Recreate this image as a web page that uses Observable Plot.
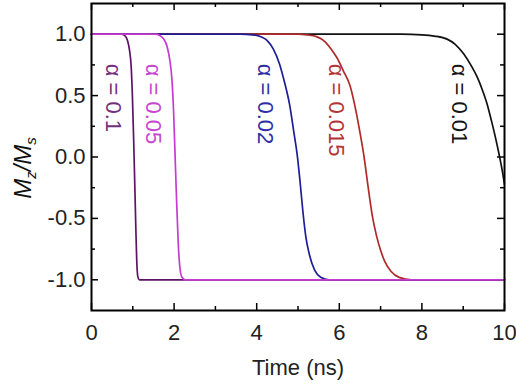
<!DOCTYPE html>
<html>
<head>
<meta charset="utf-8">
<script src="https://cdn.jsdelivr.net/npm/d3@7"></script>
<script src="https://cdn.jsdelivr.net/npm/@observablehq/plot@0.6"></script>
<style>
  html, body { margin: 0; padding: 0; background: #fff; }
  #chart { width: 516px; height: 385px; }
  svg { font-family: "Liberation Sans", Arial, sans-serif; }
</style>
</head>
<body>
<div id="chart"></div>
<script>
// ---- data ----
const seriesNames = ["α = 0.01", "α = 0.015", "α = 0.02", "α = 0.1", "α = 0.05"];
const seriesColors = ["#111111", "#b02a2a", "#1e1e96", "#5e1466", "#c53ccf"];
const labelColors = ["#151515", "#b33434", "#2e2ea6", "#74307e", "#c646d2"];

const t_a001  = [0, 7.5, 8.0, 8.3, 8.61, 8.8, 9.01, 9.2, 9.34, 9.46, 9.58, 9.68, 9.78, 9.87, 9.94, 10];
const mz_a001 = [1, 1, 0.995, 0.985, 0.96, 0.92, 0.84, 0.74, 0.65, 0.55, 0.43, 0.30, 0.16, 0.02, -0.10, -0.22];

const t_a0015  = [0, 5.0, 5.21, 5.45, 5.65, 5.80, 5.94, 6.10, 6.26, 6.40, 6.50, 6.60, 6.70, 6.80, 6.90, 7.00, 7.10, 7.25, 7.45, 7.75, 10];
const mz_a0015 = [1, 1, 0.995, 0.98, 0.94, 0.88, 0.81, 0.70, 0.58, 0.38, 0.20, 0.0, -0.25, -0.48, -0.64, -0.76, -0.85, -0.93, -0.98, -1.0, -1.0];

const t_a002  = [0, 3.6, 3.9, 4.1, 4.25, 4.40, 4.55, 4.68, 4.80, 4.90, 4.98, 5.05, 5.12, 5.19, 5.28, 5.40, 5.55, 5.75, 10];
const mz_a002 = [1, 1, 0.995, 0.98, 0.95, 0.88, 0.76, 0.60, 0.42, 0.20, 0.02, -0.20, -0.45, -0.65, -0.80, -0.92, -0.98, -1.0, -1.0];

const t_a01  = [0, 0.72, 0.80, 0.87, 0.92, 0.96, 0.99, 1.02, 1.05, 1.075, 1.10, 1.12, 1.16, 10];
const mz_a01 = [1, 1, 0.99, 0.95, 0.87, 0.74, 0.50, 0.15, -0.25, -0.60, -0.88, -0.97, -1.0, -1.0];

const t_a005  = [0, 1.55, 1.65, 1.75, 1.83, 1.90, 1.95, 1.99, 2.02, 2.06, 2.10, 2.14, 2.19, 2.27, 10];
const mz_a005 = [1, 1, 0.99, 0.96, 0.90, 0.78, 0.62, 0.35, 0.05, -0.35, -0.70, -0.90, -0.98, -1.0, -1.0];

const seriesT  = [t_a001, t_a0015, t_a002, t_a01, t_a005];
const seriesMz = [mz_a001, mz_a0015, mz_a002, mz_a01, mz_a005];

// label anchors (data units) where each rotated label starts
const labelT  = [8.89, 5.91, 4.21, 0.53, 1.50];
const labelMz = [0.76, 0.76, 0.76, 0.76, 0.76];

const xTickLabels = [0, 2, 4, 6, 8, 10];
const xMinorTicks = [1, 3, 5, 7, 9];
const yTickLabels = [-1.0, -0.5, 0.0, 0.5, 1.0];
const yMinorTicks = [-0.75, -0.25, 0.25, 0.75];

// ---- build tables ----
const rows = [];
seriesT.forEach((ts, i) => ts.forEach((t, j) => rows.push({series: seriesNames[i], t, mz: seriesMz[i][j]})));
const labels = seriesNames.map((name, i) => ({name, t: labelT[i], mz: labelMz[i], color: labelColors[i]}));

const W = 516, H = 385;
const mL = 91, mR = 12, mT = 3, mB = 75;
const fh = H - mT - mB, fw = W - mL - mR;
const major = 7, minor = 4;

const chart = Plot.plot({
  width: W,
  height: H,
  marginLeft: mL,
  marginRight: mR,
  marginTop: mT,
  marginBottom: mB,
  style: {fontFamily: "Liberation Sans, Arial, sans-serif", fontSize: "22px", color: "#222"},
  x: {domain: [0, 10]},
  y: {domain: [-1.25, 1.25]},
  color: {domain: seriesNames, range: seriesColors},
  marks: [
    // inward tick marks on all four sides
    Plot.ruleX(xTickLabels, {x: d => d, insetTop: fh - major, stroke: "#000", strokeWidth: 1.5}),
    Plot.ruleX(xMinorTicks, {x: d => d, insetTop: fh - minor, stroke: "#000", strokeWidth: 1.5}),
    Plot.ruleX(xTickLabels, {x: d => d, insetBottom: fh - major, stroke: "#000", strokeWidth: 1.5}),
    Plot.ruleX(xMinorTicks, {x: d => d, insetBottom: fh - minor, stroke: "#000", strokeWidth: 1.5}),
    Plot.ruleY(yTickLabels, {y: d => d, insetRight: fw - major, stroke: "#000", strokeWidth: 1.5}),
    Plot.ruleY(yMinorTicks, {y: d => d, insetRight: fw - minor, stroke: "#000", strokeWidth: 1.5}),
    Plot.ruleY(yTickLabels, {y: d => d, insetLeft: fw - major, stroke: "#000", strokeWidth: 1.5}),
    Plot.ruleY(yMinorTicks, {y: d => d, insetLeft: fw - minor, stroke: "#000", strokeWidth: 1.5}),
    Plot.line(rows, {x: "t", y: "mz", z: "series", stroke: "series", strokeWidth: 1.7, curve: "monotone-x"}),
    Plot.text(labels, {x: "t", y: "mz", text: "name", fill: "color", rotate: 90, textAnchor: "start", lineAnchor: "middle", fontSize: 22}),
    Plot.axisX({ticks: xTickLabels, tickSize: 0, tickPadding: 14, tickFormat: d => String(d), fontSize: 22, label: "Time (ns)", labelAnchor: "center", labelArrow: "none", labelOffset: 64}),
    Plot.axisY({ticks: yTickLabels, tickSize: 0, tickPadding: 6, tickFormat: d => d.toFixed(1), fontSize: 22, label: null}),
    Plot.frame({stroke: "#000", strokeWidth: 2})
  ]
});
document.getElementById("chart").appendChild(chart);

// y-axis title with subscripts
const svg = d3.select(chart);
const yt = svg.append("text")
  .attr("transform", "translate(31,168) rotate(-90)")
  .attr("text-anchor", "middle")
  .attr("font-family", "Liberation Sans, Arial, sans-serif")
  .attr("font-size", 24)
  .attr("font-style", "italic")
  .attr("fill", "#111");
yt.append("tspan").text("M");
yt.append("tspan").attr("font-size", 15).attr("dy", 5).text("z");
yt.append("tspan").attr("dy", -5).text("/M");
yt.append("tspan").attr("font-size", 15).attr("dy", 5).text("s");
</script>
</body>
</html>
